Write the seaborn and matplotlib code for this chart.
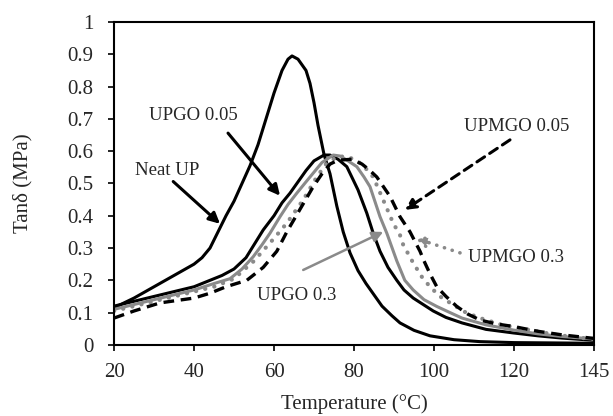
"""Tan delta vs temperature for UP / UPGO / UPMGO samples."""
import matplotlib
matplotlib.use('Agg')
import matplotlib.pyplot as plt
import seaborn as sns

# ---- data ----
neat_x = [20, 25, 30, 35, 40, 42, 44, 46, 48, 50, 52, 54, 56, 58, 60, 62, 63.5,
          64.5, 66, 68, 69, 70, 71, 72.5, 74, 75.7, 77.3, 79, 81, 83, 85, 87,
          89.5, 91.5, 95, 99, 105, 111.5, 120, 130, 140]
neat_y = [0.115, 0.145, 0.18, 0.215, 0.25, 0.27, 0.30, 0.35, 0.40, 0.445, 0.50,
          0.555, 0.62, 0.70, 0.78, 0.85, 0.885, 0.895, 0.885, 0.85, 0.81, 0.75,
          0.68, 0.59, 0.53, 0.43, 0.35, 0.285, 0.23, 0.19, 0.155, 0.12, 0.09,
          0.068, 0.045, 0.028, 0.016, 0.01, 0.007, 0.006, 0.005]

upgo005_x = [20, 25, 30, 35, 40, 44, 47, 50, 53, 55, 57.3, 60, 62, 64, 66, 68,
             70, 72.5, 74, 76, 78.2, 81, 83.2, 84.8, 86.5, 88.5, 90.7, 92.5,
             94.8, 99.8, 103, 107, 113, 119.8, 126, 132, 140]
upgo005_y = [0.12, 0.135, 0.15, 0.165, 0.18, 0.2, 0.215, 0.235, 0.27, 0.31,
             0.356, 0.40, 0.44, 0.47, 0.505, 0.54, 0.57, 0.588, 0.588, 0.575,
             0.552, 0.48, 0.408, 0.346, 0.29, 0.24, 0.2, 0.17, 0.145, 0.105,
             0.085, 0.068, 0.048, 0.037, 0.028, 0.021, 0.014]

upgo03_x = [20, 25, 30, 35, 40, 45, 49, 52, 54.8, 57, 59, 61.5, 63.5, 65.7, 68,
            70, 72, 74.8, 76.5, 78.5, 80.7, 82.5, 84, 86.5, 88.2, 90.7, 92.7,
            94.8, 97.5, 100.7, 104, 107, 113, 119.8, 126, 132, 140]
upgo03_y = [0.11, 0.125, 0.14, 0.155, 0.17, 0.19, 0.205, 0.235, 0.273, 0.31,
            0.346, 0.397, 0.435, 0.47, 0.505, 0.535, 0.565, 0.588, 0.585, 0.57,
            0.552, 0.52, 0.49, 0.397, 0.346, 0.26, 0.2, 0.17, 0.14, 0.119, 0.1,
            0.083, 0.062, 0.046, 0.034, 0.026, 0.018]

upmgo03_x = [20, 30, 40, 45, 50, 55, 60, 63.2, 67.3, 70.7, 73, 76, 79, 82,
             84.8, 87.3, 89.8, 91.5, 92.3, 94.8, 97, 99, 101.5, 104.8, 108,
             111.5, 117, 124, 130, 136.5, 140]
upmgo03_y = [0.105, 0.135, 0.165, 0.18, 0.205, 0.26, 0.33, 0.377, 0.449, 0.52,
             0.56, 0.585, 0.58, 0.56, 0.52, 0.449, 0.377, 0.34, 0.31, 0.254,
             0.21, 0.18, 0.15, 0.124, 0.1, 0.083, 0.062, 0.046, 0.032, 0.022,
             0.018]

upmgo005_x = [20, 25, 31.5, 40, 44, 48, 53.2, 57.3, 60.7, 63.2, 66.5, 69.8, 72,
              74, 76, 79.5, 82, 84, 85.7, 89, 91.5, 94, 96.5, 97.5, 99, 100.7,
              103, 105.7, 108.5, 111.5, 115.5, 119.8, 126, 132, 140]
upmgo005_y = [0.083, 0.105, 0.13, 0.145, 0.16, 0.18, 0.2, 0.24, 0.29, 0.35,
              0.42, 0.49, 0.53, 0.56, 0.572, 0.575, 0.56, 0.54, 0.52, 0.46,
              0.397, 0.35, 0.29, 0.26, 0.22, 0.18, 0.15, 0.119, 0.095, 0.077,
              0.065, 0.057, 0.042, 0.031, 0.02]

x_ticks = [20, 40, 60, 80, 100, 120, 140]
x_tick_labels = ['20', '40', '60', '80', '100', '120', '145']
y_ticks = [0, 0.1, 0.2, 0.3, 0.4, 0.5, 0.6, 0.7, 0.8, 0.9, 1]
y_tick_labels = ['0', '0.1', '0.2', '0.3', '0.4', '0.5', '0.6', '0.7', '0.8',
                 '0.9', '1']

GRAY = '#8a8a8a'

sns.set_style('ticks')
plt.rcParams['font.family'] = ['Liberation Serif', 'DejaVu Serif']

fig, ax = plt.subplots(figsize=(6.13, 4.16), dpi=100)
fig.subplots_adjust(left=0.186, right=0.969, top=0.947, bottom=0.171)

sns.lineplot(x=neat_x, y=neat_y, ax=ax, color='black', lw=2.2)
sns.lineplot(x=upgo005_x, y=upgo005_y, ax=ax, color='black', lw=2.2)
sns.lineplot(x=upgo03_x, y=upgo03_y, ax=ax, color=GRAY, lw=2.2)
sns.lineplot(x=upmgo03_x, y=upmgo03_y, ax=ax, color=GRAY, lw=3.0,
             linestyle=(0, (0.05, 2.2)), dash_capstyle='round')
sns.lineplot(x=upmgo005_x, y=upmgo005_y, ax=ax, color='black', lw=2.4,
             linestyle=(0, (3.2, 2.0)))


def note(xy, xytext, color='black', ls='-', lw=2.2):
    ax.annotate('', xy=xy, xytext=xytext,
                arrowprops=dict(arrowstyle='-|>', color=color, lw=lw,
                                linestyle=ls, mutation_scale=16,
                                capstyle='round', shrinkA=0, shrinkB=0))


lab_kw = dict(fontsize=13.5, ha='center', va='center')
ax.text(33.3, 0.54, 'Neat UP', **lab_kw)
note((46.5, 0.375), (34.8, 0.506))
ax.text(39.8, 0.709, 'UPGO 0.05', **lab_kw)
note((61.5, 0.462), (48.5, 0.656))
ax.text(65.7, 0.152, 'UPGO 0.3', **lab_kw)
note((87.3, 0.35), (67.3, 0.232), color=GRAY, lw=1.8)
ax.text(120.7, 0.675, 'UPMGO 0.05', **lab_kw)
note((92.7, 0.418), (119, 0.635), ls=(0, (3, 2)))
ax.text(120.5, 0.27, 'UPMGO 0.3', **lab_kw)
note((95.2, 0.331), (106.5, 0.285), color=GRAY, ls=(0, (0.05, 2.2)), lw=2.6)

ax.set_xlim(20, 140)
ax.set_ylim(0, 1)
ax.set_xticks(x_ticks)
ax.set_xticklabels(x_tick_labels)
ax.set_yticks(y_ticks)
ax.set_yticklabels(y_tick_labels)
ax.tick_params(labelsize=15, length=4, width=1.2, color='black')
ax.tick_params(axis='x', pad=9)
ax.tick_params(axis='y', pad=11)
for s in ax.spines.values():
    s.set_visible(True)
    s.set_linewidth(1.5)
    s.set_color('black')

ax.set_xlabel('Temperature (°C)', fontsize=15, labelpad=9)
ax.set_ylabel('Tanδ (MPa)', fontsize=15, labelpad=25)

fig.savefig('out.png', dpi=100)
